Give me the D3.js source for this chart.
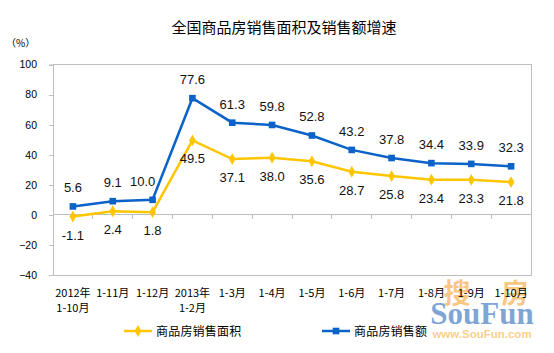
<!DOCTYPE html>
<html><head><meta charset="utf-8">
<script src="https://cdn.jsdelivr.net/npm/d3@7"></script>
<style>
html,body{margin:0;padding:0;background:#fff;}
svg{display:block;}
</style></head>
<body>
<svg id="c" width="554" height="353"></svg>
<script>
const categories = [["2012年","1-10月"],["1-11月"],["1-12月"],["2013年","1-2月"],["1-3月"],["1-4月"],["1-5月"],["1-6月"],["1-7月"],["1-8月"],["1-9月"],["1-10月"]];
const areaGrowth = [-1.1, 2.4, 1.8, 49.5, 37.1, 38.0, 35.6, 28.7, 25.8, 23.4, 23.3, 21.8];
const salesGrowth = [5.6, 9.1, 10.0, 77.6, 61.3, 59.8, 52.8, 43.2, 37.8, 34.4, 33.9, 32.3];
const yTicks = [-40, -20, 0, 20, 40, 60, 80, 100];
const seriesNames = ["商品房销售面积", "商品房销售额"];
const title = "全国商品房销售面积及销售额增速";

const svg = d3.select("#c");
const L = 53, R = 531, T = 64.5, B = 275;
const gray = "#BEBEBE";
const yellow = "#FFC600", blue = "#0B62C8";
const cjk = "'Noto Sans CJK SC','Liberation Sans',sans-serif";
const num = "'Liberation Sans',Arial,sans-serif";

const x = d3.scaleBand().domain(d3.range(categories.length)).range([L, R]).padding(0);
const y = d3.scaleLinear().domain([-40, 100]).range([B, T]);
const cx = i => x(i) + x.bandwidth() / 2;

// title
svg.append("text").attr("x", 284).attr("y", 32.5).attr("text-anchor", "middle")
  .attr("font-family", cjk).attr("font-size", 15).attr("fill", "#000").text(title);
svg.append("text").attr("x", 6).attr("y", 47).attr("font-family", cjk)
  .attr("font-size", 10).attr("fill", "#000").text("（%）");

// frame
svg.append("rect").attr("x", L).attr("y", T).attr("width", R - L).attr("height", B - T)
  .attr("fill", "none").attr("stroke", gray).attr("stroke-width", 1).attr("shape-rendering", "crispEdges");

// y axis
const yAxis = d3.axisLeft(y).tickValues(yTicks).tickSize(4).tickPadding(12);
const gy = svg.append("g").attr("transform", `translate(${L},0)`).call(yAxis);
gy.select(".domain").attr("stroke", gray);
gy.selectAll(".tick line").attr("stroke", gray).attr("shape-rendering", "crispEdges");
gy.selectAll(".tick text").attr("font-family", num).attr("font-size", 10.5).attr("fill", "#000");

// zero line with category ticks
const gx = svg.append("g").attr("transform", `translate(0,${y(0)})`);
gx.append("line").attr("x1", L).attr("x2", R).attr("stroke", gray).attr("shape-rendering", "crispEdges");
gx.selectAll("line.tk").data(d3.range(1, categories.length)).join("line").attr("class", "tk")
  .attr("x1", i => x(i)).attr("x2", i => x(i)).attr("y1", 0).attr("y2", 4)
  .attr("stroke", gray).attr("shape-rendering", "crispEdges");

// watermark (drawn beneath the labels)
const wm = svg.append("g").attr("pointer-events", "none");
wm.append("text").attr("x", 457).attr("y", 303).attr("text-anchor", "middle").attr("font-family", cjk).attr("font-weight", "bold")
  .attr("font-size", 27).attr("fill", "#F5A835").attr("fill-opacity", 0.65).text("搜");
wm.append("text").attr("x", 515).attr("y", 303).attr("text-anchor", "middle").attr("font-family", cjk).attr("font-weight", "bold")
  .attr("font-size", 27).attr("fill", "#F5A835").attr("fill-opacity", 0.65).text("房");
wm.append("text").attr("x", 482).attr("y", 324).attr("text-anchor", "middle").attr("font-family", "'Liberation Serif',serif")
  .attr("font-weight", "bold").attr("font-size", 31).attr("fill", "#5587C8").attr("fill-opacity", 0.75).text("SouFun");
wm.append("text").attr("x", 482).attr("y", 337.5).attr("text-anchor", "middle").attr("font-family", num)
  .attr("font-weight", "bold").attr("font-size", 11.5).attr("fill", "#FBC36A").attr("fill-opacity", 0.8).text("www.SouFun.com");

// x labels
const xl = svg.append("g");
categories.forEach((c, i) => {
  c.forEach((s, k) => {
    xl.append("text").attr("x", cx(i)).attr("y", 297 + k * 14.5).attr("text-anchor", "middle")
      .attr("font-family", cjk).attr("font-size", 11).attr("fill", "#000").text(s);
  });
});

// lines
const line = d3.line().x((d, i) => cx(i)).y(d => y(d));
svg.append("path").datum(areaGrowth).attr("d", line).attr("fill", "none").attr("stroke", yellow).attr("stroke-width", 2.5);
svg.append("path").datum(salesGrowth).attr("d", line).attr("fill", "none").attr("stroke", blue).attr("stroke-width", 2.5);

const diamond = d3.symbol().type(d3.symbolDiamond).size(40);
const square = d3.symbol().type(d3.symbolSquare).size(44);
svg.append("g").selectAll("path").data(areaGrowth).join("path")
  .attr("d", diamond).attr("fill", yellow)
  .attr("transform", (d, i) => `translate(${cx(i)},${y(d)})`);
svg.append("g").selectAll("path").data(salesGrowth).join("path")
  .attr("d", square).attr("fill", blue)
  .attr("transform", (d, i) => `translate(${cx(i)},${y(d)})`);

// data labels
const shiftBlue = {2: -10};
svg.append("g").selectAll("text").data(salesGrowth).join("text")
  .attr("x", (d, i) => cx(i) + (shiftBlue[i] || 0)).attr("y", d => y(d) - 14)
  .attr("text-anchor", "middle").attr("font-family", num).attr("font-size", 13).attr("fill", "#111")
  .text(d => d.toFixed(1));
svg.append("g").selectAll("text").data(areaGrowth).join("text")
  .attr("x", (d, i) => cx(i)).attr("y", d => y(d) + 23)
  .attr("text-anchor", "middle").attr("font-family", num).attr("font-size", 13).attr("fill", "#111")
  .text(d => d.toFixed(1));

// legend
const lg = [{x: 124, c: yellow, sym: diamond, name: seriesNames[0]},
            {x: 322, c: blue, sym: square, name: seriesNames[1]}];
lg.forEach(d => {
  const g = svg.append("g").attr("transform", `translate(${d.x},331)`);
  g.append("line").attr("x1", 0).attr("x2", 28).attr("stroke", d.c).attr("stroke-width", 2.5);
  g.append("path").attr("d", d.sym).attr("fill", d.c).attr("transform", "translate(14,0)");
  g.append("text").attr("x", 32).attr("y", 4.5).attr("font-family", cjk).attr("font-size", 12)
    .attr("letter-spacing", 0.2).attr("fill", "#000").text(d.name);
});
</script>
</body></html>
